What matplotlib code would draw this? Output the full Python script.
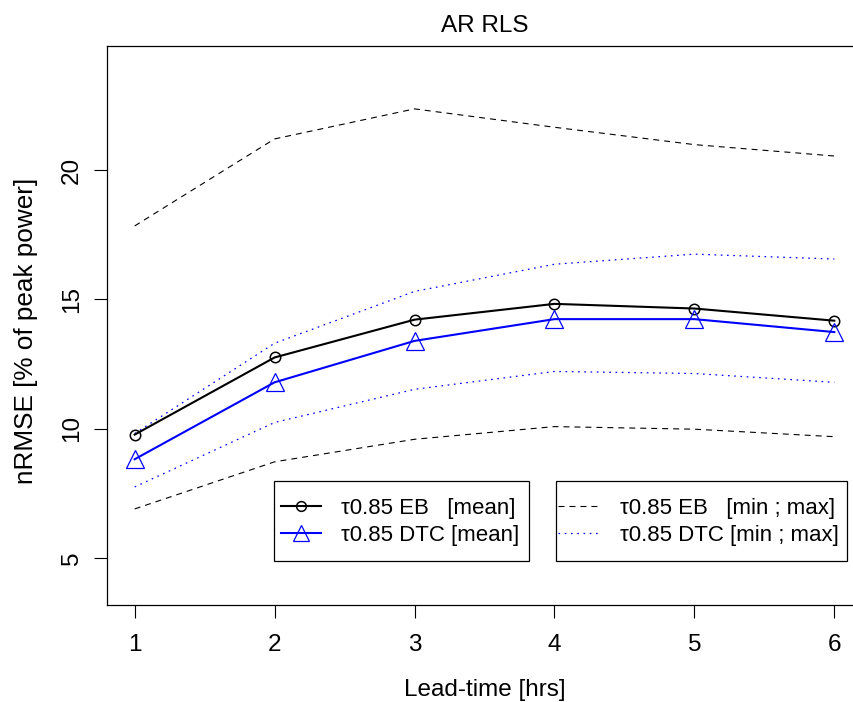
import matplotlib
matplotlib.use("Agg")
import matplotlib.pyplot as plt
from matplotlib.lines import Line2D
from matplotlib.patches import Rectangle

plt.rcParams['font.family'] = ['Liberation Sans', 'DejaVu Sans']
plt.rcParams['lines.scale_dashes'] = False

# Lead times and nRMSE statistics
lead_time = [1, 2, 3, 4, 5, 6]
eb_mean = [9.78, 12.76, 14.22, 14.83, 14.65, 14.18]
dtc_mean = [8.83, 11.80, 13.40, 14.24, 14.24, 13.74]
eb_min = [6.91, 8.73, 9.60, 10.09, 9.99, 9.70]
eb_max = [17.84, 21.20, 22.36, 21.65, 20.98, 20.54]
dtc_min = [7.76, 10.25, 11.53, 12.22, 12.14, 11.80]
dtc_max = [9.82, 13.31, 15.31, 16.36, 16.75, 16.56]

x_ticks = [1, 2, 3, 4, 5, 6]
y_ticks = [5, 10, 15, 20]

labels_mean = ["\u03c40.85 EB   [mean]", "\u03c40.85 DTC [mean]"]
labels_range = ["\u03c40.85 EB   [min ; max]", "\u03c40.85 DTC [min ; max]"]

FS = 17.5
LFS = 16
W, H = 854, 702
fig = plt.figure(figsize=(W / 100, H / 100), dpi=100)
ax = fig.add_axes([106.7 / W, 1 - 605 / H, (862.3 - 106.7) / W, (605 - 45.7) / H])

DASH = (0, (4.3, 3.6))
DOT = (0, (1.2, 3.3))

ax.plot(lead_time, eb_max, color='black', lw=0.8, linestyle=DASH)
ax.plot(lead_time, eb_min, color='black', lw=0.8, linestyle=DASH)
ax.plot(lead_time, dtc_max, color='blue', lw=0.9, linestyle=DOT)
ax.plot(lead_time, dtc_min, color='blue', lw=0.9, linestyle=DOT)
ax.plot(lead_time, eb_mean, color='black', lw=1.5, marker='o', ms=7.5,
        mfc='none', mec='black', mew=1.1)
ax.plot(lead_time, dtc_mean, color='blue', lw=1.5, marker='^', ms=13,
        mfc='none', mec='blue', mew=0.9)

ax.set_xlim(0.8, 6.2)
ax.set_ylim(3.2, 24.8)
ax.set_xticks(x_ticks)
ax.set_yticks(y_ticks)
ax.tick_params(axis='both', labelsize=FS, length=9.2, width=0.8, color='black')
ax.tick_params(axis='x', pad=11.5)
ax.tick_params(axis='y', pad=8)
for lab in ax.get_yticklabels():
    lab.set_rotation(90)
    lab.set_va('center')
for s in ax.spines.values():
    s.set_linewidth(0.9)
    s.set_color('black')

ax.set_title("AR RLS", fontsize=FS, pad=9.9)
ax.set_xlabel("Lead-time [hrs]", fontsize=FS)
ax.set_ylabel("nRMSE [% of peak power]", fontsize=18.8)
ax.xaxis.set_label_coords(0.5, (605 - 690) / 559.3)
ax.yaxis.set_label_coords((26 - 106.7) / 755.6, (605 - 331) / 559.3)
ax.xaxis.label.set_va('center')
ax.yaxis.label.set_va('center')

# legends
h_mean = [Line2D([], [], color='black', lw=1.5, marker='o', ms=7, mfc='none', mew=1.1),
          Line2D([], [], color='blue', lw=1.5, marker='^', ms=12, mfc='none', mew=0.9)]
h_range = [Line2D([], [], color='black', lw=0.8, linestyle=DASH),
           Line2D([], [], color='blue', lw=0.9, linestyle=DOT)]

yc = 1 - 521.7 / H
leg1 = ax.legend(h_mean, labels_mean, loc='center left', bbox_to_anchor=(281 / W, yc),
                 bbox_transform=fig.transFigure, frameon=False, fontsize=LFS,
                 borderpad=0, borderaxespad=0, handlelength=1.8, handletextpad=0.9,
                 labelspacing=0.26)
ax.add_artist(leg1)
leg2 = ax.legend(h_range, labels_range, loc='center left', bbox_to_anchor=(558 / W, yc),
                 bbox_transform=fig.transFigure, frameon=False, fontsize=LFS,
                 borderpad=0, borderaxespad=0, handlelength=1.85, handletextpad=0.95,
                 labelspacing=0.26)

for x0, x1 in [(274, 529), (556, 847)]:
    fig.patches.append(Rectangle((x0 / W, 1 - 561 / H), (x1 - x0) / W, 80 / H,
                                 transform=fig.transFigure, fill=False,
                                 edgecolor='black', lw=0.9, zorder=5))

fig.savefig("out.png", dpi=100)
